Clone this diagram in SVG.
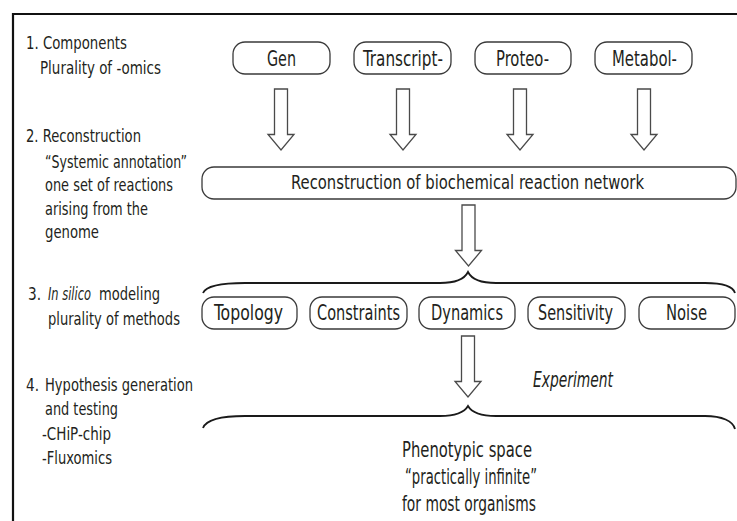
<svg xmlns="http://www.w3.org/2000/svg" width="737" height="521" viewBox="0 0 737 521">
  <style>
    text { font-family: "Liberation Sans Narrow", "DejaVu Sans Condensed", "Liberation Sans", sans-serif; fill: #231f20; }
    .side { font-size: 17px; }
    .lbl { font-size: 21px; text-anchor: middle; }
    .wide { font-size: 20px; }
    .it { font-style: italic; }
    .box { fill: #ffffff; stroke: #3a3a3a; stroke-width: 1.3; }
    .arrow { fill: #ffffff; stroke: #4a4a4a; stroke-width: 1.3; stroke-linejoin: miter; }
    .brace { fill: none; stroke: #1a1a1a; stroke-width: 1.8; }
    .frame { fill: none; stroke: #111111; stroke-width: 2.2; }
  </style>
  <defs>
    <!-- hollow block arrow, tip at (0,0), pointing down -->
    <path id="blockArrow" class="arrow" d="M -6.5,-61 V -15.5 H -13 L 0,0 L 13,-15.5 H 6.5 V -61 Z"/>
  </defs>

  <rect width="737" height="521" fill="#ffffff"/>

  <!-- outer frame (top and left edges) -->
  <path class="frame" d="M 13,521 V 14 H 737"/>

  <!-- step descriptions on the left -->
  <g id="steps">
    <text class="side" x="26" y="49" textLength="101" lengthAdjust="spacingAndGlyphs">1. Components</text>
    <text class="side" x="40" y="74" textLength="121" lengthAdjust="spacingAndGlyphs">Plurality of -omics</text>

    <text class="side" x="26" y="142" textLength="115" lengthAdjust="spacingAndGlyphs">2. Reconstruction</text>
    <text class="side" x="45" y="168" textLength="142" lengthAdjust="spacingAndGlyphs">“Systemic annotation”</text>
    <text class="side" x="45" y="191" textLength="128" lengthAdjust="spacingAndGlyphs">one set of reactions</text>
    <text class="side" x="45" y="215" textLength="103" lengthAdjust="spacingAndGlyphs">arising from the</text>
    <text class="side" x="45" y="238" textLength="54" lengthAdjust="spacingAndGlyphs">genome</text>

    <text class="side" x="28" y="300" textLength="13" lengthAdjust="spacingAndGlyphs">3.</text>
    <text class="side it" x="48" y="300" textLength="43" lengthAdjust="spacingAndGlyphs">In silico</text>
    <text class="side" x="99" y="300" textLength="61" lengthAdjust="spacingAndGlyphs">modeling</text>
    <text class="side" x="48" y="325" textLength="132" lengthAdjust="spacingAndGlyphs">plurality of methods</text>

    <text class="side" x="26" y="391" textLength="13" lengthAdjust="spacingAndGlyphs">4.</text>
    <text class="side" x="45" y="391" textLength="148" lengthAdjust="spacingAndGlyphs">Hypothesis generation</text>
    <text class="side" x="45" y="415" textLength="73" lengthAdjust="spacingAndGlyphs">and testing</text>
    <text class="side" x="42" y="440" textLength="69" lengthAdjust="spacingAndGlyphs">-CHiP-chip</text>
    <text class="side" x="42" y="464" textLength="70" lengthAdjust="spacingAndGlyphs">-Fluxomics</text>
  </g>

  <!-- omics components -->
  <g id="gen">
    <rect class="box" x="233" y="42" width="97" height="32" rx="12"/>
    <text class="lbl" x="281.5" y="66" textLength="29" lengthAdjust="spacingAndGlyphs">Gen</text>
  </g>
  <g id="transcript">
    <rect class="box" x="354" y="42" width="97" height="32" rx="12"/>
    <text class="lbl" x="403" y="66" textLength="80" lengthAdjust="spacingAndGlyphs">Transcript-</text>
  </g>
  <g id="proteo">
    <rect class="box" x="475" y="42" width="96" height="32" rx="12"/>
    <text class="lbl" x="522.5" y="66" textLength="53" lengthAdjust="spacingAndGlyphs">Proteo-</text>
  </g>
  <g id="metabol">
    <rect class="box" x="595" y="42" width="97" height="32" rx="12"/>
    <text class="lbl" x="644.5" y="66" textLength="65" lengthAdjust="spacingAndGlyphs">Metabol-</text>
  </g>

  <!-- reconstruction -->
  <g id="reconstruction">
    <rect class="box" x="202" y="167" width="534" height="32" rx="12"/>
    <text class="lbl wide" x="467.5" y="189" textLength="353" lengthAdjust="spacingAndGlyphs">Reconstruction of biochemical reaction network</text>
  </g>

  <!-- modeling methods -->
  <g id="topology">
    <rect class="box" x="202" y="297" width="95" height="32" rx="12"/>
    <text class="lbl" x="248.5" y="320" textLength="69" lengthAdjust="spacingAndGlyphs">Topology</text>
  </g>
  <g id="constraints">
    <rect class="box" x="310" y="297" width="97" height="32" rx="12"/>
    <text class="lbl" x="358.5" y="320" textLength="83" lengthAdjust="spacingAndGlyphs">Constraints</text>
  </g>
  <g id="dynamics">
    <rect class="box" x="419" y="297" width="96" height="32" rx="12"/>
    <text class="lbl" x="467" y="320" textLength="72" lengthAdjust="spacingAndGlyphs">Dynamics</text>
  </g>
  <g id="sensitivity">
    <rect class="box" x="528" y="297" width="97" height="32" rx="12"/>
    <text class="lbl" x="575.5" y="320" textLength="75" lengthAdjust="spacingAndGlyphs">Sensitivity</text>
  </g>
  <g id="noise">
    <rect class="box" x="639" y="297" width="96" height="32" rx="12"/>
    <text class="lbl" x="686.5" y="320" textLength="41" lengthAdjust="spacingAndGlyphs">Noise</text>
  </g>

  <!-- phenotypic space -->
  <g id="phenotype">
    <text class="lbl" x="467" y="457" textLength="130" lengthAdjust="spacingAndGlyphs">Phenotypic space</text>
    <text class="lbl" x="471" y="484" textLength="132" lengthAdjust="spacingAndGlyphs">“practically infinite”</text>
    <text class="lbl" x="469" y="511" textLength="134" lengthAdjust="spacingAndGlyphs">for most organisms</text>
  </g>

  <!-- arrows and braces -->
  <g id="connectors">
    <use href="#blockArrow" x="281" y="150"/>
    <use href="#blockArrow" x="403" y="150"/>
    <use href="#blockArrow" x="520" y="150"/>
    <use href="#blockArrow" x="644" y="150"/>
    <use href="#blockArrow" x="468.5" y="266"/>
    <use href="#blockArrow" x="468" y="397"/>

    <path class="brace" d="M 203,293 C 206,286 222,283 245,283 H 440 C 455,283 464,280 468,272 C 472,280 481,283 496,283 H 705 C 722,283 733,286 735,293"/>
    <path class="brace" d="M 203,428 C 206,420 222,416 245,416 H 440 C 455,416 464,413 468,406 C 472,413 481,416 496,416 H 705 C 722,416 733,421 735,429"/>

    <text class="lbl it" x="573" y="387" textLength="80" lengthAdjust="spacingAndGlyphs">Experiment</text>
  </g>
</svg>
